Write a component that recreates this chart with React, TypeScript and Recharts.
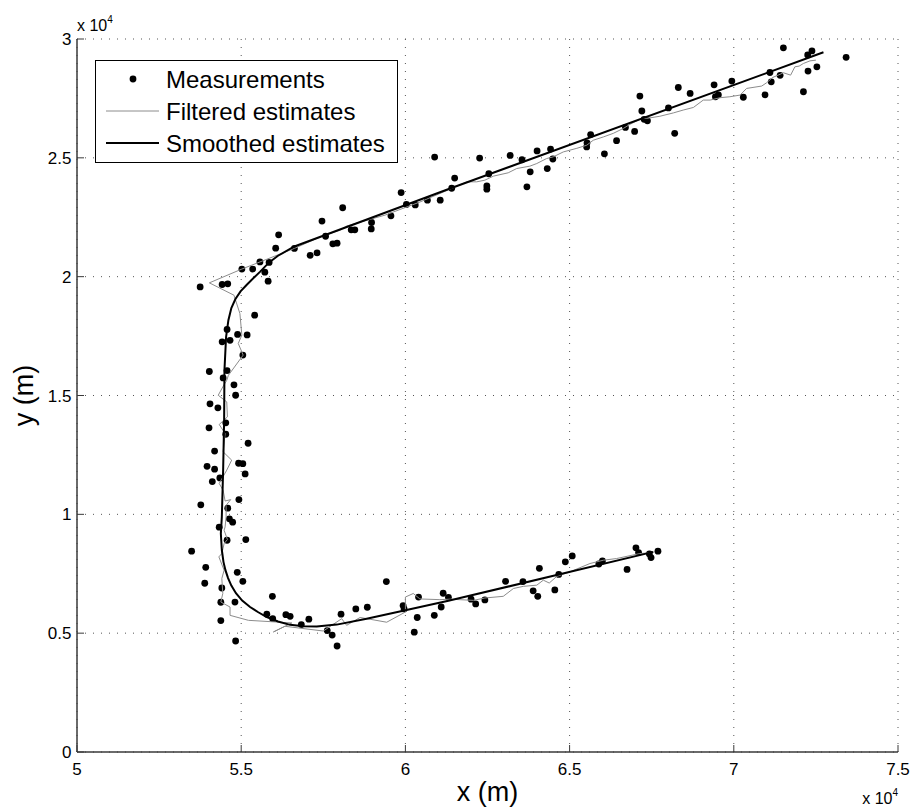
import React from 'react';
import { ScatterChart, Scatter, XAxis, YAxis, CartesianGrid, Legend, Label } from 'recharts';

// Target tracking: raw measurements vs. filter / smoother output.
// All positions are in units of 10^4 m (the axes carry an "x 10^4" multiplier).

const FONT = '"Liberation Sans", Arial, Helvetica, sans-serif';
const AXIS_COLOR = '#3a3a3a';
const GRID_COLOR = '#555';
const FILTER_COLOR = '#8c8c8c';

const X_TICKS = [5, 5.5, 6, 6.5, 7, 7.5];
const Y_TICKS = [0, 0.5, 1, 1.5, 2, 2.5, 3];

// plot box in the 911x807 frame
const W = 911;
const H = 807;
const LEFT = 77;
const TOP = 39;
const RIGHT = 13;
const BOTTOM = 55;

const MEASUREMENTS: [number, number][] = [
  // upper leg
  [5.375, 1.957], [5.442, 1.967], [5.459, 1.970], [5.502, 2.032], [5.535, 2.032], [5.557, 2.062],
  [5.572, 2.019], [5.585, 2.060], [5.582, 1.981], [5.605, 2.120], [5.614, 2.176], [5.662, 2.119],
  [5.710, 2.090], [5.731, 2.100], [5.746, 2.234], [5.757, 2.170], [5.779, 2.138], [5.792, 2.141],
  [5.809, 2.290], [5.835, 2.197], [5.846, 2.197], [5.897, 2.228], [5.896, 2.201], [5.956, 2.256],
  [5.987, 2.354], [6.003, 2.304], [6.030, 2.302], [6.067, 2.322], [6.106, 2.322], [6.089, 2.503],
  [6.141, 2.372], [6.150, 2.415], [6.226, 2.499], [6.254, 2.433], [6.248, 2.382], [6.248, 2.368],
  [6.319, 2.510], [6.355, 2.492], [6.380, 2.441], [6.370, 2.378], [6.401, 2.529], [6.442, 2.537],
  [6.449, 2.495], [6.432, 2.455], [6.552, 2.546], [6.553, 2.563], [6.564, 2.598], [6.606, 2.517],
  [6.643, 2.572], [6.670, 2.628], [6.698, 2.611], [6.714, 2.760], [6.720, 2.697], [6.727, 2.662],
  [6.737, 2.656], [6.801, 2.710], [6.820, 2.603], [6.831, 2.796], [6.867, 2.771], [6.940, 2.807],
  [6.944, 2.757], [6.953, 2.765], [6.994, 2.823], [7.029, 2.755], [7.095, 2.765], [7.110, 2.859],
  [7.114, 2.820], [7.141, 2.847], [7.151, 2.963], [7.212, 2.778], [7.225, 2.933], [7.238, 2.950],
  [7.226, 2.865], [7.253, 2.883], [7.342, 2.923],
  // southbound leg
  [5.541, 1.838], [5.457, 1.778], [5.489, 1.757], [5.518, 1.755], [5.442, 1.726], [5.466, 1.732],
  [5.505, 1.670], [5.403, 1.601], [5.457, 1.605], [5.445, 1.574], [5.478, 1.545], [5.483, 1.501],
  [5.405, 1.465], [5.429, 1.448], [5.453, 1.385], [5.453, 1.337], [5.402, 1.364], [5.521, 1.299],
  [5.419, 1.266], [5.396, 1.202], [5.419, 1.190], [5.492, 1.215], [5.505, 1.213], [5.512, 1.170],
  [5.412, 1.138], [5.435, 1.153], [5.493, 1.062], [5.377, 1.040], [5.459, 1.026], [5.464, 0.981],
  [5.474, 0.967], [5.433, 0.946], [5.457, 0.891], [5.514, 0.894], [5.349, 0.845], [5.392, 0.777],
  [5.389, 0.710], [5.488, 0.756], [5.505, 0.718], [5.441, 0.690], [5.438, 0.630], [5.481, 0.631],
  [5.438, 0.553], [5.483, 0.467],
  // lower leg
  [5.595, 0.655], [5.578, 0.580], [5.596, 0.561], [5.636, 0.578], [5.649, 0.571], [5.683, 0.536],
  [5.706, 0.559], [5.762, 0.511], [5.777, 0.492], [5.792, 0.446], [5.804, 0.580], [5.849, 0.602],
  [5.884, 0.609], [5.942, 0.717], [5.993, 0.616], [5.996, 0.602], [6.027, 0.504], [6.036, 0.566],
  [6.040, 0.652], [6.088, 0.575], [6.109, 0.610], [6.115, 0.668], [6.131, 0.651], [6.200, 0.643],
  [6.214, 0.623], [6.242, 0.640], [6.305, 0.718], [6.358, 0.717], [6.389, 0.678], [6.403, 0.655],
  [6.408, 0.773], [6.455, 0.682], [6.467, 0.747], [6.487, 0.800], [6.508, 0.825], [6.589, 0.791],
  [6.600, 0.804], [6.675, 0.768], [6.702, 0.859], [6.710, 0.839], [6.743, 0.833], [6.748, 0.818],
  [6.769, 0.845],
];

// filter output, in time order (starts upper right)
const FILTERED: [number, number][] = [
  [7.250, 2.911], [7.232, 2.908], [7.212, 2.897], [7.199, 2.886], [7.186, 2.883], [7.173, 2.848],
  [7.151, 2.858], [7.135, 2.848], [7.118, 2.838], [7.100, 2.816], [7.085, 2.802], [7.039, 2.792],
  [7.019, 2.764], [6.988, 2.757], [6.958, 2.753], [6.928, 2.743], [6.907, 2.743], [6.877, 2.712],
  [6.846, 2.701], [6.816, 2.689], [6.775, 2.675], [6.735, 2.666], [6.720, 2.666], [6.684, 2.641],
  [6.664, 2.624], [6.633, 2.603], [6.603, 2.588], [6.572, 2.574], [6.552, 2.553], [6.522, 2.540],
  [6.481, 2.525], [6.450, 2.504], [6.430, 2.497], [6.400, 2.476], [6.379, 2.465], [6.339, 2.455],
  [6.313, 2.437], [6.268, 2.423], [6.242, 2.406], [6.217, 2.399], [6.187, 2.399], [6.151, 2.377],
  [6.044, 2.314], [5.938, 2.259], [5.821, 2.213], [5.801, 2.196], [5.740, 2.167], [5.662, 2.119],
  [5.502, 2.032], [5.403, 1.974], [5.478, 1.922], [5.496, 1.845], [5.502, 1.754], [5.491, 1.719],
  [5.506, 1.670], [5.461, 1.585], [5.456, 1.564], [5.444, 1.536], [5.430, 1.501], [5.456, 1.473],
  [5.458, 1.410], [5.433, 1.378], [5.451, 1.340], [5.445, 1.263], [5.471, 1.228], [5.456, 1.186],
  [5.433, 1.130], [5.445, 1.101], [5.451, 1.056], [5.468, 1.062], [5.454, 1.038], [5.454, 0.989],
  [5.451, 0.947], [5.448, 0.933], [5.458, 0.894], [5.448, 0.877], [5.441, 0.835], [5.432, 0.821],
  [5.448, 0.765], [5.441, 0.730], [5.444, 0.667], [5.438, 0.631], [5.466, 0.610], [5.466, 0.575],
  [5.522, 0.554], [5.654, 0.543], [5.598, 0.505], [5.633, 0.529], [5.750, 0.509], [5.806, 0.561],
  [5.821, 0.533], [5.862, 0.566], [5.943, 0.546], [6.000, 0.589], [6.000, 0.652], [6.024, 0.667],
  [6.044, 0.644], [6.105, 0.641], [6.136, 0.643], [6.207, 0.638], [6.242, 0.648], [6.298, 0.655],
  [6.329, 0.688], [6.359, 0.697], [6.400, 0.702], [6.420, 0.723], [6.438, 0.711], [6.461, 0.739],
  [6.501, 0.758], [6.562, 0.793], [6.603, 0.807], [6.643, 0.814], [6.714, 0.835], [6.745, 0.838],
];

const SMOOTHED: [number, number][] = [
  [7.273, 2.944], [6.136, 2.371], [5.662, 2.127], [5.612, 2.088], [5.585, 2.060], [5.557, 2.020],
  [5.536, 1.992], [5.517, 1.966], [5.498, 1.938], [5.482, 1.905], [5.470, 1.868], [5.461, 1.817],
  [5.454, 1.747], [5.449, 1.606], [5.448, 1.396], [5.445, 1.186], [5.441, 0.989], [5.438, 0.919],
  [5.441, 0.850], [5.446, 0.800], [5.452, 0.765], [5.460, 0.732], [5.470, 0.700], [5.484, 0.668],
  [5.503, 0.637], [5.527, 0.610], [5.552, 0.588], [5.578, 0.568], [5.612, 0.549], [5.649, 0.535],
  [5.690, 0.529], [5.730, 0.528], [5.791, 0.536], [5.882, 0.561], [6.000, 0.596], [6.131, 0.636],
  [6.755, 0.842],
];

const toPoints = (arr: [number, number][]) => arr.map(([x, y]) => ({ x, y }));

const measData = toPoints(MEASUREMENTS);
const filtData = toPoints(FILTERED);
const smoothData = toPoints(SMOOTHED);

const fmt = (v: number) => String(v);

function XTick({ x, y, payload }: any) {
  return (
    <g>
      <line x1={x} y1={y} x2={x} y2={y - 7} stroke={AXIS_COLOR} />
      <text x={x} y={y + 23} textAnchor="middle" fontSize={17} fontFamily={FONT} fill="#000">
        {fmt(payload.value)}
      </text>
    </g>
  );
}

function YTick({ x, y, payload }: any) {
  return (
    <g>
      <line x1={x} y1={y} x2={x + 7} y2={y} stroke={AXIS_COLOR} />
      <text x={x - 5.5} y={y + 6} textAnchor="end" fontSize={17} fontFamily={FONT} fill="#000">
        {fmt(payload.value)}
      </text>
    </g>
  );
}

// "x 10^4" multiplier
function Multiplier({ x, y, anchor }: { x: number; y: number; anchor: 'start' | 'end' }) {
  return (
    <text x={x} y={y} textAnchor={anchor} fontSize={16} fontFamily={FONT} fill="#000">
      <tspan>x 10</tspan>
      <tspan dy={-8} fontSize={10}>4</tspan>
    </text>
  );
}

const LEGEND_ITEMS = [
  { label: 'Measurements', kind: 'dot', color: '#000' },
  { label: 'Filtered estimates', kind: 'line', color: FILTER_COLOR, width: 1 },
  { label: 'Smoothed estimates', kind: 'line', color: '#000', width: 2 },
];

function LegendBox() {
  return (
    <svg width={303} height={103} style={{ display: 'block' }}>
      <rect x={0.5} y={0.5} width={302} height={102} fill="#fff" stroke="#000" />
      {LEGEND_ITEMS.map((it, i) => {
        const cy = 19 + i * 32;
        return (
          <g key={it.label}>
            {it.kind === 'dot' ? (
              <circle cx={38} cy={cy} r={3.4} fill={it.color} />
            ) : (
              <line x1={11} x2={64} y1={cy} y2={cy} stroke={it.color} strokeWidth={it.width} />
            )}
            <text x={71} y={cy + 9} fontSize={24} fontFamily={FONT} fill="#000">
              {it.label}
            </text>
          </g>
        );
      })}
    </svg>
  );
}

const Dot = (p: any) => <circle cx={p.cx} cy={p.cy} r={3.4} fill="#000" />;
const NoDot = () => <g />;

export default function App() {
  const plotW = W - LEFT - RIGHT;
  const plotH = H - TOP - BOTTOM;
  return (
    <div style={{ position: 'absolute', left: 0, top: 0, width: W, height: H, background: '#fff' }}>
      <ScatterChart width={W} height={H} margin={{ top: TOP, right: RIGHT, bottom: 0, left: 0 }}>
        <CartesianGrid stroke={GRID_COLOR} strokeDasharray="1 7" />
        <XAxis
          type="number"
          dataKey="x"
          domain={[5, 7.5]}
          ticks={X_TICKS}
          interval={0}
          height={BOTTOM}
          tickSize={0}
          tickMargin={0}
          tickLine={false}
          axisLine={{ stroke: AXIS_COLOR, strokeWidth: 1.5 }}
          tick={<XTick />}
          allowDataOverflow
        >
          <Label
            content={() => (
              <text x={LEFT + plotW / 2} y={TOP + plotH + 49} textAnchor="middle" fontSize={27} fontFamily={FONT} fill="#000">
                x (m)
              </text>
            )}
          />
          <Label content={() => <Multiplier x={LEFT + plotW} y={TOP + plotH + 52} anchor="end" />} />
        </XAxis>
        <YAxis
          type="number"
          dataKey="y"
          domain={[0, 3]}
          ticks={Y_TICKS}
          interval={0}
          width={LEFT}
          tickSize={0}
          tickMargin={0}
          tickLine={false}
          axisLine={{ stroke: AXIS_COLOR, strokeWidth: 1.5 }}
          tick={<YTick />}
          allowDataOverflow
        >
          <Label
            content={() => (
              <text
                x={33}
                y={TOP + plotH / 2}
                transform={`rotate(-90, 33, ${TOP + plotH / 2})`}
                textAnchor="middle"
                fontSize={27}
                fontFamily={FONT}
                fill="#000"
              >
                y (m)
              </text>
            )}
          />
          <Label content={() => <Multiplier x={LEFT} y={TOP - 8} anchor="start" />} />
        </YAxis>
        <Legend
          layout="vertical"
          align="center"
          verticalAlign="middle"
          wrapperStyle={{ left: 95, top: 60, width: 303, height: 103 }}
          content={() => <LegendBox />}
        />
        <Scatter name="Measurements" data={measData} shape={Dot} isAnimationActive={false} />
        <Scatter
          name="Filtered estimates"
          data={filtData}
          shape={NoDot}
          line={{ stroke: FILTER_COLOR, strokeWidth: 1 }}
          lineType="joint"
          isAnimationActive={false}
        />
        <Scatter
          name="Smoothed estimates"
          data={smoothData}
          shape={NoDot}
          line={{ stroke: '#000', strokeWidth: 2 }}
          lineType="joint"
          isAnimationActive={false}
        />
      </ScatterChart>
    </div>
  );
}
